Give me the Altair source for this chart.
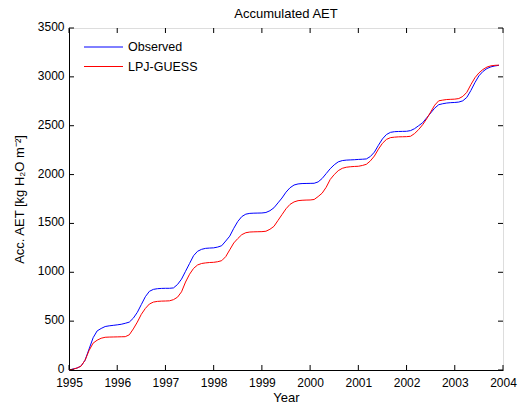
import altair as alt
import pandas as pd

# Monthly accumulated actual evapotranspiration, Jan 1995 - Dec 2003 (kg H2O m-2)
observed = [
    0, 10, 20, 40, 100, 215, 330, 400, 425, 445, 452, 457,
    462, 468, 478, 490, 530, 590, 670, 750, 805, 825, 832, 835,
    836, 836, 840, 875, 930, 1010, 1090, 1170, 1215, 1235, 1245, 1248,
    1250, 1258, 1272, 1320, 1370, 1450, 1520, 1570, 1595, 1603, 1605, 1606,
    1607, 1612, 1630, 1660, 1710, 1760, 1820, 1865, 1893, 1904, 1908, 1909,
    1910, 1911, 1925, 1960, 2010, 2060, 2100, 2130, 2143, 2148, 2150, 2152,
    2155, 2157, 2160, 2185, 2230, 2300, 2365, 2410, 2432, 2439, 2441, 2442,
    2443, 2450, 2470, 2500, 2530, 2580, 2630, 2680, 2715, 2725, 2732, 2736,
    2738, 2742, 2755, 2790, 2860, 2940, 3010, 3055, 3085, 3102, 3112, 3118,
]
lpj_guess = [
    0, 8, 20, 40, 100, 200, 275, 305, 325, 335, 337, 338,
    339, 340, 341, 360, 420, 490, 570, 630, 675, 695, 702, 705,
    706, 708, 720, 745, 800, 900, 980, 1040, 1075, 1090, 1096, 1100,
    1102, 1108, 1119, 1160, 1230, 1300, 1345, 1385, 1405, 1412, 1414, 1415,
    1416, 1420, 1440, 1470, 1530, 1590, 1650, 1695, 1720, 1733, 1737, 1739,
    1740, 1745, 1775, 1810, 1870, 1950, 2000, 2040, 2064, 2075, 2080, 2083,
    2085, 2093, 2105, 2140, 2190, 2260, 2320, 2360, 2378, 2383, 2386, 2387,
    2388, 2392, 2420, 2460, 2510, 2570, 2640, 2710, 2755, 2762, 2768, 2770,
    2772, 2778, 2800, 2842, 2920, 2990, 3040, 3075, 3100, 3113, 3118, 3120,
]
series_names = ["Observed", "LPJ-GUESS"]
series_colors = ["#0000ff", "#ff0000"]
x_ticks = list(range(1995, 2005))
y_ticks = list(range(0, 3501, 500))

years = [1995 + m / 12 for m in range(len(observed))]
df = pd.concat([
    pd.DataFrame({"year": years, "aet": observed, "series": series_names[0], "order": 0}),
    pd.DataFrame({"year": years, "aet": lpj_guess, "series": series_names[1], "order": 1}),
])

W, H = 434, 342
FONT = "Liberation Sans"
xscale = alt.Scale(domain=[1995, 2004], nice=False, zero=False)
yscale = alt.Scale(domain=[0, 3500], nice=False)
cscale = alt.Scale(domain=series_names, range=series_colors)
axis_style = dict(
    ticks=False, grid=False, labelFlush=False, labelBound=False, labelOverlap=False,
    domainColor="black", labelColor="black", titleColor="black",
    labelFont=FONT, titleFont=FONT, labelFontSize=12, titleFontSize=13,
    titleFontWeight="normal",
)
xaxis = alt.Axis(values=x_ticks, format="d", title="Year", labelPadding=7,
                 titlePadding=3, **axis_style)
yaxis = alt.Axis(values=y_ticks, format="d", title="Acc. AET [kg H₂O m⁻²]",
                 labelPadding=5, labelOffset=-1.5, titlePadding=11, **axis_style)

lines = alt.Chart(df).mark_line(strokeWidth=1, interpolate="linear").encode(
    x=alt.X("year:Q", scale=xscale, axis=xaxis),
    y=alt.Y("aet:Q", scale=yscale, axis=yaxis),
    color=alt.Color("series:N", scale=cscale, legend=None),
    detail="order:O",
)

# inward tick marks on all four sides
xt = pd.DataFrame({"year": x_ticks})
yt = pd.DataFrame({"aet": y_ticks})
TL = 5
tick_layers = [
    alt.Chart(xt).mark_rule(color="black", strokeWidth=1).encode(
        x=alt.X("year:Q", scale=xscale, axis=xaxis), y=alt.value(H), y2=alt.value(H - TL)),
    alt.Chart(xt).mark_rule(color="black", strokeWidth=1).encode(
        x=alt.X("year:Q", scale=xscale, axis=xaxis), y=alt.value(0), y2=alt.value(TL)),
    alt.Chart(yt).mark_rule(color="black", strokeWidth=1).encode(
        y=alt.Y("aet:Q", scale=yscale, axis=yaxis), x=alt.value(0), x2=alt.value(TL)),
    alt.Chart(yt).mark_rule(color="black", strokeWidth=1).encode(
        y=alt.Y("aet:Q", scale=yscale, axis=yaxis), x=alt.value(W), x2=alt.value(W - TL)),
]

# legend in the upper-left corner
legend_layers = []
for i, name in enumerate(series_names):
    ldf = pd.DataFrame({"series": [name]})
    legend_layers.append(
        alt.Chart(ldf).mark_rule(strokeWidth=1).encode(
            x=alt.value(15), x2=alt.value(54), y=alt.value(19 + 19.5 * i),
            color=alt.Color("series:N", scale=cscale, legend=None)))
    legend_layers.append(
        alt.Chart(ldf).mark_text(align="left", baseline="middle", font=FONT,
                                 fontSize=12.5, color="black").encode(
            x=alt.value(59), y=alt.value(19 + 19.5 * i), text="series:N"))

chart = alt.layer(lines, *tick_layers, *legend_layers).properties(
    width=W, height=H,
    title=alt.TitleParams("Accumulated AET", font=FONT, fontSize=13,
                          fontWeight="normal", color="black", offset=0),
    autosize=alt.AutoSizeParams(type="none"),
    padding={"left": 69, "top": 28, "right": 15, "bottom": 36},
).configure_view(
    stroke="black", strokeWidth=1,
).configure(background="white")

chart.save("out.html", embed_options={"renderer": "svg", "actions": False})
